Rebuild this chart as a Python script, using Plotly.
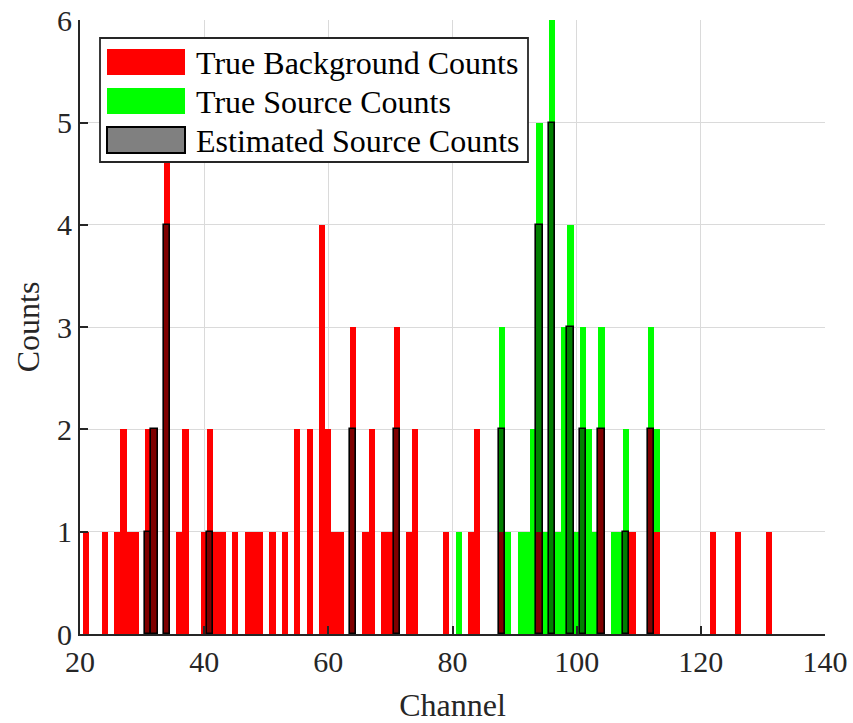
import plotly.graph_objects as go

# ---------------- data ----------------
bg_channels = [21, 24, 26, 27, 28, 29, 31, 32, 34, 36, 37, 40, 41, 42, 43, 45, 47, 48, 49,
               51, 53, 55, 57, 59, 60, 61, 62, 64, 66, 67, 69, 70, 71, 73, 74, 79, 83, 84,
               88, 94, 104, 109, 112, 113, 122, 126, 131]
bg_counts = [1, 1, 1, 2, 1, 1, 2, 2, 5, 1, 2, 1, 2, 1, 1, 1, 1, 1, 1,
             1, 1, 2, 2, 4, 2, 1, 1, 3, 1, 2, 1, 1, 3, 1, 2, 1, 1, 2,
             1, 1, 2, 1, 2, 1, 1, 1, 1]

src_channels = [81, 88, 89, 91, 92, 93, 94, 95, 96, 97, 98, 99, 100, 101, 102, 103, 104,
                106, 107, 108, 112, 113]
src_counts = [1, 2, 1, 1, 1, 2, 4, 1, 6, 1, 3, 4, 1, 3, 2, 1, 1,
              1, 1, 2, 1, 1]

est_channels = [31, 32, 34, 41, 64, 71, 88, 94, 96, 99, 101, 104, 108, 112]
est_counts = [1, 2, 4, 1, 2, 2, 2, 4, 5, 3, 2, 2, 1, 2]

x_ticks = [20, 40, 60, 80, 100, 120, 140]
y_ticks = [0, 1, 2, 3, 4, 5, 6]

legend_labels = ["True Background Counts", "True Source Counts", "Estimated Source Counts"]

# ---------------- figure ----------------
FONT = "Liberation Serif, Times New Roman, serif"
RED = "#ff0000"
GREEN = "#00ff00"
AX = "#262626"

bg_lookup = dict(zip(bg_channels, bg_counts))
src_base = [bg_lookup.get(c, 0) for c in src_channels]

fig = go.Figure()
fig.add_trace(go.Bar(x=src_channels, y=src_counts, base=src_base, width=1,
                     marker=dict(color=GREEN, line=dict(width=0)),
                     name=legend_labels[1], showlegend=False))
fig.add_trace(go.Bar(x=bg_channels, y=bg_counts, width=1,
                     marker=dict(color=RED, line=dict(width=0)),
                     name=legend_labels[0], showlegend=False))
fig.add_trace(go.Bar(x=est_channels, y=est_counts, width=1,
                     marker=dict(color="rgba(0,0,0,0.5)", line=dict(color="black", width=1.6)),
                     name=legend_labels[2], showlegend=False))

# the page's body margin is removed (see post_script), so the figure fills the window
W, H = 853, 723
L, R, T, B = 80, 28, 20, 89
PW, PH = W - L - R, H - T - B


def pxx(p):
    return (p - L) / PW


def pxy(p):
    return (H - B - p) / PH


shapes = []
annotations = []
# legend box
shapes.append(dict(type="rect", xref="paper", yref="paper", layer="above",
                   x0=pxx(100), x1=pxx(528), y0=pxy(162), y1=pxy(38),
                   fillcolor="white", line=dict(color=AX, width=1.8)))
sw_cols = [RED, GREEN, "#808080"]
row_centers = [62, 101, 140]
for lab, col, yc in zip(legend_labels, sw_cols, row_centers):
    is_est = col == "#808080"
    shapes.append(dict(type="rect", xref="paper", yref="paper", layer="above",
                       x0=pxx(107), x1=pxx(185), y0=pxy(yc + 13), y1=pxy(yc - 13),
                       fillcolor=col,
                       line=dict(color="black" if is_est else col, width=2 if is_est else 0)))
    annotations.append(dict(xref="paper", yref="paper", x=pxx(194), y=pxy(yc + 1),
                            xanchor="left", yanchor="middle", showarrow=False,
                            text=lab, font=dict(family=FONT, size=32, color="black")))

fig.update_layout(
    width=W, height=H,
    margin=dict(l=L, r=R, t=T, b=B, pad=0),
    paper_bgcolor="white", plot_bgcolor="white",
    barmode="overlay", bargap=0,
    font=dict(family=FONT, size=30, color=AX),
    shapes=shapes, annotations=annotations,
    showlegend=False,
)
fig.update_xaxes(range=[20, 140], tickvals=x_ticks, ticktext=[str(v) for v in x_ticks],
                 showgrid=True, gridcolor="#dadada", gridwidth=1.2,
                 showline=True, linecolor=AX, linewidth=2,
                 ticks="inside", ticklen=8, tickwidth=2, tickcolor=AX,
                 tickfont=dict(family=FONT, size=30, color=AX),
                 ticklabeloverflow="allow",
                 zeroline=False, automargin=False,
                 title=dict(text="Channel", font=dict(family=FONT, size=32, color=AX),
                            standoff=20))
fig.update_yaxes(range=[0, 6.004], tickvals=y_ticks, ticktext=[str(v) for v in y_ticks],
                 showgrid=True, gridcolor="#dadada", gridwidth=1.2,
                 showline=True, linecolor=AX, linewidth=2,
                 ticks="inside", ticklen=8, tickwidth=2, tickcolor=AX,
                 tickfont=dict(family=FONT, size=30, color=AX),
                 ticklabeloverflow="allow",
                 zeroline=False, automargin=False,
                 title=dict(text="Counts", font=dict(family=FONT, size=32, color=AX),
                            standoff=8))

fig.write_html("out.html", config={"displayModeBar": False},
               post_script="document.body.style.margin='0px';document.body.style.padding='0px';")
